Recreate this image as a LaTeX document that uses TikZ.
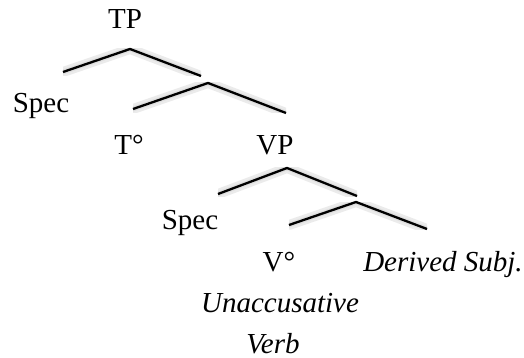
\documentclass[tikz,border=0pt]{standalone}
\usepackage{fontspec}
\setmainfont{Liberation Serif}
\begin{document}
\begin{tikzpicture}[x=1pt,y=-1pt,
  lbl/.style={anchor=base,inner sep=0pt,font=\fontsize{29}{34}\selectfont},
  branch/.style={line width=2.3pt,black},
  shad/.style={line width=10pt,gray!16,line cap=round},
  shadin/.style={line width=5pt,gray!25,line cap=round}]
\useasboundingbox (0,0) rectangle (524,358);
% apex / end coordinates
\coordinate (a1) at (130,49);  \coordinate (l1) at (63,72);  \coordinate (r1) at (201,76);
\coordinate (a2) at (208,83);  \coordinate (l2) at (133,109); \coordinate (r2) at (286,113);
\coordinate (a3) at (287,168); \coordinate (l3) at (218,194); \coordinate (r3) at (357,196);
\coordinate (a4) at (356,202); \coordinate (l4) at (289,225); \coordinate (r4) at (427,229);
% shadows
\foreach \a/\l/\r in {a1/l1/r1,a2/l2/r2,a3/l3/r3,a4/l4/r4}{
  \begin{scope}
    \clip (\l |- \a) rectangle (\r);
    \draw[shad,yshift=-6pt] (\l) -- (\a) -- (\r);
    \draw[shadin,yshift=-4pt] (\l) -- (\a) -- (\r);
  \end{scope}
}
% branches
\draw[branch] (l1) -- (a1) -- (r1);
\draw[branch] (l2) -- (a2) -- (r2);
\draw[branch] (l3) -- (a3) -- (r3);
\draw[branch] (l4) -- (a4) -- (r4);
% labels
\node[lbl] (tp) at (125,29) {TP};
\node[lbl] (spec1) at (41,113) {Spec};
\node[lbl] (t) at (129,154) {T°};
\node[lbl] (vp) at (275,154) {VP};
\node[lbl] (spec2) at (190,229) {Spec};
\node[lbl] (v) at (279,271) {V°};
\node[lbl] (ds) at (443,271) {\itshape Derived Subj.};
\node[lbl] (un) at (280,312) {\itshape Unaccusative};
\node[lbl] (vb) at (273,353) {\itshape Verb};
\end{tikzpicture}
\end{document}
